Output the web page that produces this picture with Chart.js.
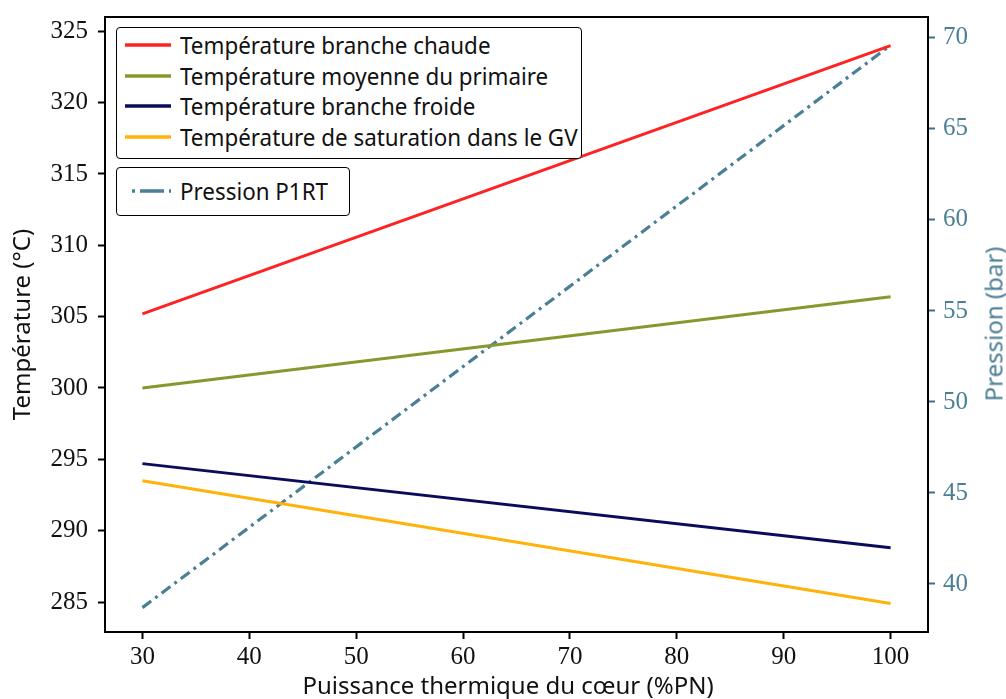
<!DOCTYPE html>
<html>
<head>
<meta charset="utf-8">
<script src="https://cdn.jsdelivr.net/npm/chart.js@4/dist/chart.umd.min.js"></script>
<style>
  body { margin: 0; background: #fff; }
  #wrapper { position: relative; width: 1006px; height: 699px; overflow: hidden; }
  .legend-box { position: absolute; border: 1.5px solid #000; border-radius: 4px; background: #fff; }
  .row { position: absolute; left: 8px; height: 30px; display: flex; align-items: center;
         font-family: "Noto Sans", sans-serif; font-size: 23.5px; color: #111; white-space: nowrap; }
  .row svg { margin-right: 9px; }
  .row span { display: inline-block; transform: scaleX(0.952); transform-origin: left center; }
  #pressTitle { position: absolute; left: 993px; top: 324px; transform: translate(-50%, -50%) rotate(-90deg);
                font-family: "Noto Sans", sans-serif; font-size: 24px; color: #4a7d94; white-space: nowrap; }
  #xTitle { position: absolute; left: 508px; top: 685px; transform: translate(-50%, -50%);
            font-family: "Noto Sans", sans-serif; font-size: 24px; line-height: 1; color: #111; white-space: nowrap; }
</style>
</head>
<body>
<div id="wrapper">
  <canvas id="myChart" width="1006" height="699"></canvas>
  <div id="legend1" class="legend-box" style="left:116px; top:27px; width:464px; height:130px;"></div>
  <div id="legend2" class="legend-box" style="left:116px; top:167px; width:232px; height:47px;"></div>
  <div id="pressTitle">Pression (bar)</div>
  <div id="xTitle">Puissance thermique du cœur (%PN)</div>
</div>
<script>
// data
var xValues = [30, 100];
var hotLeg = [305.2, 324.0];
var meanTemp = [300.0, 306.4];
var coldLeg = [294.7, 288.8];
var satTemp = [293.5, 284.9];
var pressure = [38.7, 69.6];

var xTicks = [30, 40, 50, 60, 70, 80, 90, 100];
var tempTicks = [285, 290, 295, 300, 305, 310, 315, 320, 325];
var pressTicks = [40, 45, 50, 55, 60, 65, 70];

var tempNames = [
  'Température branche chaude',
  'Température moyenne du primaire',
  'Température branche froide',
  'Température de saturation dans le GV'
];
var tempColors = ['#ff2222', '#86992e', '#0b0b5c', '#ffb20a'];
var pressColor = '#4a7f96';

function pts(arr) {
  return xValues.map(function (x, i) { return { x: x, y: arr[i] }; });
}

// html legends
var legend1 = document.getElementById('legend1');
tempNames.forEach(function (name, i) {
  var row = document.createElement('div');
  row.className = 'row';
  row.style.top = (2 + i * 30.5) + 'px';
  row.innerHTML = '<svg width="46" height="8"><line x1="0" y1="4" x2="46" y2="4" stroke="' +
    tempColors[i] + '" stroke-width="3.5"/></svg><span>' + name + '</span>';
  legend1.appendChild(row);
});
var legend2 = document.getElementById('legend2');
var prow = document.createElement('div');
prow.className = 'row';
prow.style.top = '8px';
prow.innerHTML = '<svg width="46" height="8"><line x1="7" y1="4" x2="47" y2="4" stroke="' + pressColor +
  '" stroke-width="3.5" stroke-dasharray="3 5 24 5 3 20"/></svg><span>Pression P1RT</span>';
legend2.appendChild(prow);

var frame = {
  id: 'frame',
  afterDraw: function (chart) {
    var a = chart.chartArea, ctx = chart.ctx;
    ctx.save();
    ctx.strokeStyle = '#000';
    ctx.lineWidth = 2;
    ctx.strokeRect(a.left, a.top, a.right - a.left, a.bottom - a.top);
    ctx.restore();
  }
};

var tickFont = { family: '"Liberation Serif", serif', size: 25 };

function fitV(w) {
  return function (s) { s.width = w; s.paddingTop = 0; s.paddingBottom = 0; };
}

var datasets = [hotLeg, meanTemp, coldLeg, satTemp].map(function (arr, i) {
  return {
    label: tempNames[i],
    data: pts(arr),
    borderColor: tempColors[i],
    borderWidth: 3,
    pointRadius: 0,
    yAxisID: 'y'
  };
});
datasets.push({
  label: 'Pression P1RT',
  data: pts(pressure),
  borderColor: pressColor,
  borderWidth: 3.2,
  borderDash: [11, 5, 3, 5],
  pointRadius: 0,
  yAxisID: 'y2'
});

new Chart('myChart', {
  type: 'line',
  data: { datasets: datasets },
  plugins: [frame],
  options: {
    responsive: false,
    animation: false,
    layout: { padding: { top: 17 } },
    plugins: { legend: { display: false }, tooltip: { enabled: false } },
    scales: {
      x: {
        type: 'linear',
        min: 26.5,
        max: 103.5,
        afterBuildTicks: function (s) { s.ticks = xTicks.map(function (v) { return { value: v }; }); },
        afterFit: function (s) { s.height = 67; s.paddingLeft = 0; s.paddingRight = 0; },
        border: { display: false },
        grid: { drawOnChartArea: false, tickLength: 7, tickWidth: 2, tickColor: '#000' },
        ticks: { font: tickFont, color: '#111', padding: 3, maxRotation: 0 }
      },
      y: {
        position: 'left',
        min: 282.9,
        max: 326,
        afterBuildTicks: function (s) { s.ticks = tempTicks.map(function (v) { return { value: v }; }); },
        afterFit: fitV(105),
        border: { display: false },
        grid: { drawOnChartArea: false, tickLength: 7, tickWidth: 2, tickColor: '#000' },
        ticks: { font: tickFont, color: '#111', padding: 10 },
        title: {
          display: true,
          text: 'Température (°C)',
          font: { family: '"Noto Sans", sans-serif', size: 24, lineHeight: 1 },
          color: '#111',
          padding: { top: 11, bottom: 0 }
        }
      },
      y2: {
        position: 'right',
        min: 37.36,
        max: 71.15,
        afterBuildTicks: function (s) { s.ticks = pressTicks.map(function (v) { return { value: v }; }); },
        afterFit: fitV(78),
        border: { display: false },
        grid: { drawOnChartArea: false, tickLength: 7, tickWidth: 2, tickColor: '#3d6f85' },
        ticks: { font: tickFont, color: pressColor, padding: 8 }
      }
    }
  }
});
</script>
</body>
</html>
